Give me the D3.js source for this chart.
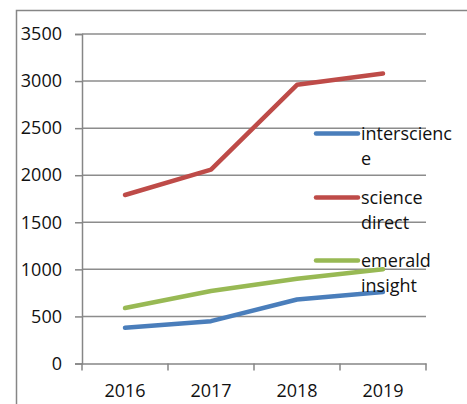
<!DOCTYPE html>
<html><head><meta charset="utf-8">
<script src="https://cdn.jsdelivr.net/npm/d3@7"></script>
<style>
html,body{margin:0;padding:0;background:#fff;}
svg{display:block;font-family:"Open Sans",sans-serif;}
</style></head>
<body>
<svg id="c" width="467" height="404"></svg>
<script>
const years = ["2016","2017","2018","2019"];
const seriesNames = ["interscience","science direct","emerald insight"];
const interscience = [380, 450, 680, 760];
const scienceDirect = [1790, 2060, 2960, 3080];
const emeraldInsight = [590, 770, 900, 1000];
const yTicks = [0,500,1000,1500,2000,2500,3000,3500];
const colors = ["#4a7ebb","#be4b48","#98b954"];

const series = [interscience, scienceDirect, emeraldInsight];
const svg = d3.select("#c");
const plotL = 82, plotR = 426, plotT = 34, plotB = 363.5;
const fs = 18;

// outer frame
svg.append("path").attr("d","M16.5,404 V10.5 H467").attr("fill","none").attr("stroke","#868686").attr("stroke-width",1.5);

const x = d3.scaleBand().domain(years).range([plotL,plotR]).padding(0);
const y = d3.scaleLinear().domain([0,3500]).range([plotB,plotT]);

// gridlines
svg.append("g").selectAll("line").data(yTicks.filter(d=>d>0)).join("line")
  .attr("x1",plotL).attr("x2",plotR).attr("y1",d=>y(d)).attr("y2",d=>y(d))
  .attr("stroke","#8c8c8c").attr("stroke-width",1.5);

// y axis
const ya = svg.append("g").attr("transform",`translate(${plotL},0)`)
  .call(d3.axisLeft(y).tickValues(yTicks).tickSize(7).tickPadding(13).tickFormat(d3.format("d")));
ya.select(".domain").attr("stroke","#868686").attr("stroke-width",1.5);
ya.selectAll(".tick line").attr("stroke","#868686").attr("stroke-width",1.5);
ya.selectAll("text").attr("font-size",fs).attr("fill","#111").attr("font-family","'Open Sans',sans-serif");

// x axis
const xa = svg.append("g").attr("transform",`translate(0,${plotB})`)
  .call(d3.axisBottom(x).tickSize(0).tickPadding(21));
xa.select(".domain").attr("stroke","#868686").attr("stroke-width",1.5);
xa.selectAll("text").attr("font-size",fs).attr("fill","#111").attr("font-family","'Open Sans',sans-serif");
const bounds = years.map(d=>x(d)).concat([x(years[years.length-1])+x.bandwidth()]);
xa.append("g").selectAll("line").data(bounds).join("line")
  .attr("x1",d=>d).attr("x2",d=>d).attr("y1",0).attr("y2",7)
  .attr("stroke","#868686").attr("stroke-width",1.5);

// lines
const line = d3.line().x((d,i)=>x(years[i])+x.bandwidth()/2).y(d=>y(d));
series.forEach((s,k)=>{
  svg.append("path").datum(s).attr("d",line).attr("fill","none")
    .attr("stroke",colors[k]).attr("stroke-width",4.5)
    .attr("stroke-linejoin","round").attr("stroke-linecap","round");
});

// legend
const legY = [133.5, 197.5, 260.5];
const maxW = 95;
function wrap(label, t){
  const lines = [];
  let cur = "";
  const measure = s => { t.text(s); return t.node().getComputedTextLength(); };
  label.split(" ").forEach(w=>{
    const tryS = cur ? cur + " " + w : w;
    if (measure(tryS) <= maxW) { cur = tryS; return; }
    if (cur) { lines.push(cur); cur = ""; }
    let piece = "";
    for (const ch of w) {
      if (measure(piece+ch) <= maxW) piece += ch;
      else { lines.push(piece); piece = ch; }
    }
    cur = piece;
  });
  if (cur) lines.push(cur);
  t.text(null);
  return lines;
}
seriesNames.forEach((name,k)=>{
  const g = svg.append("g");
  g.append("line").attr("x1",316).attr("x2",358).attr("y1",legY[k]).attr("y2",legY[k])
    .attr("stroke",colors[k]).attr("stroke-width",4.5).attr("stroke-linecap","round");
  const t = g.append("text").attr("x",361).attr("y",legY[k]).attr("font-size",fs).attr("fill","#111");
  const lines = wrap(name, t);
  lines.forEach((ln,i)=>{
    t.append("tspan").attr("x",361).attr("y",legY[k]+6+i*25).text(ln);
  });
});
</script>
</body></html>
